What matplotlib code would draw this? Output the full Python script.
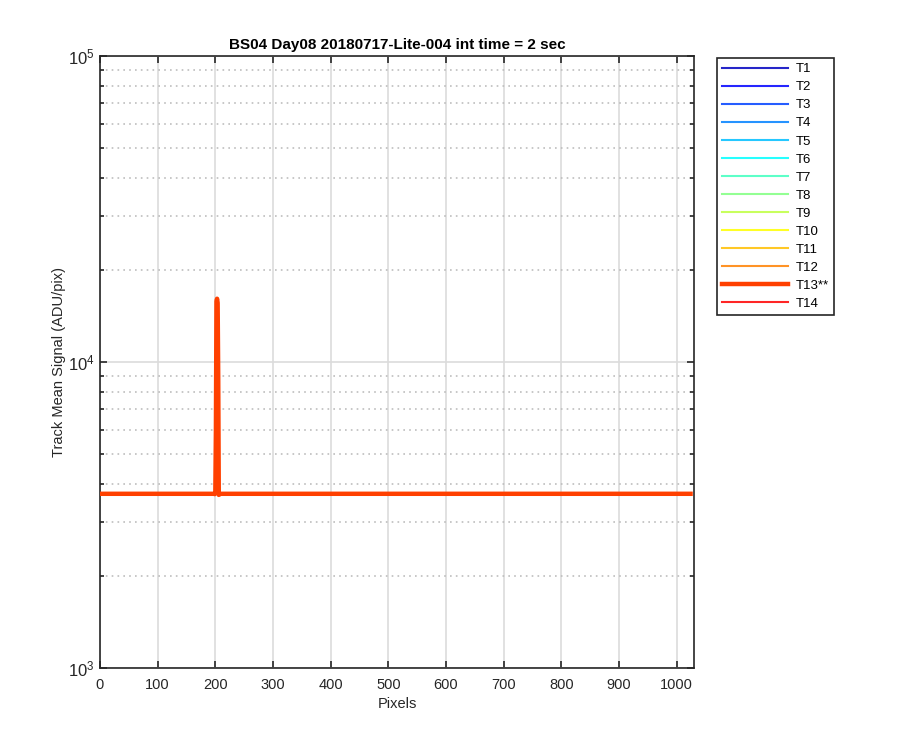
import numpy as np
import matplotlib
matplotlib.use("Agg")
from matplotlib import pyplot as plt
from matplotlib.ticker import LogLocator, NullFormatter, FixedLocator

plt.rcParams['font.family'] = ['Liberation Sans', 'DejaVu Sans']
plt.rcParams['mathtext.fontset'] = 'custom'
plt.rcParams['mathtext.rm'] = 'Liberation Sans'

# data
track_names = ['T1', 'T2', 'T3', 'T4', 'T5', 'T6', 'T7', 'T8', 'T9', 'T10',
               'T11', 'T12', 'T13**', 'T14']
track_base = [3700, 3700, 3700, 3700, 3700, 3700, 3700, 3700, 3700, 3700,
              3700, 3700, 3710, 3690]
n_pixels = 1024
spike_pixels = [199, 200, 201, 202, 203, 204, 205, 206, 207, 208]
spike_values = [3700, 3750, 6000, 15800, 16100, 15600, 9000, 3680, 3690, 3700]
highlight = 'T13**'
y_ticks = [1e3, 1e4, 1e5]
y_ticklabels = ['$\\mathregular{10^{3}}$', '$\\mathregular{10^{4}}$',
                '$\\mathregular{10^{5}}$']

# MATLAB jet(16), first 14 entries
colors = [(0, 0, 0.75), (0, 0, 1), (0, 0.25, 1), (0, 0.5, 1), (0, 0.75, 1),
          (0, 1, 1), (0.25, 1, 0.75), (0.5, 1, 0.5), (0.75, 1, 0.25),
          (1, 1, 0), (1, 0.75, 0), (1, 0.5, 0), (1, 0.25, 0), (1, 0, 0)]

pixels = np.arange(1, n_pixels + 1)

fig = plt.figure(figsize=(9, 7.5), dpi=100)
ax = fig.add_axes([0.1111, 0.1093, 0.66, 0.816])

for name, base, col in zip(track_names, track_base, colors):
    sig = np.full(n_pixels, float(base))
    for p, v in zip(spike_pixels, spike_values):
        sig[p - 1] = v
    if name == highlight:
        ax.plot(pixels, sig, color=col, lw=3.2, label=name, zorder=5)
    else:
        ax.plot(pixels, sig, color=col, lw=1.5, label=name, alpha=0.85, zorder=3)

ax.set_yscale('log')
ax.set_ylim(1e3, 1e5)
ax.set_xlim(0, 1030)
ax.xaxis.set_major_locator(FixedLocator(np.arange(0, 1001, 100)))
ax.set_yticks(y_ticks)
ax.set_yticklabels(y_ticklabels, fontsize=12)
ax.yaxis.set_minor_locator(LogLocator(base=10, subs=np.arange(2, 10), numticks=20))
ax.yaxis.set_minor_formatter(NullFormatter())

ax.grid(True, which='major', color='#dcdcdc', lw=1.2, ls='-')
ax.grid(True, which='minor', axis='y', color='#bdbdbd', lw=1.2, ls=(0, (1, 2.5)))
ax.set_axisbelow(True)

dark = '#262626'
for s in ax.spines.values():
    s.set_color(dark)
    s.set_linewidth(1.2)
ax.tick_params(which='both', direction='in', top=True, right=True, colors=dark,
               labelcolor=dark)
ax.tick_params(axis='x', labelsize=10.5, pad=7)
ax.tick_params(axis='y', pad=4)
ax.tick_params(which='major', length=5, width=1.2)
ax.tick_params(which='minor', length=3, width=1.2)

ax.set_xlabel('Pixels', fontsize=10.5, color=dark)
ax.set_ylabel('Track Mean Signal (ADU/pix)', fontsize=10.5, color=dark, labelpad=1)
ax.set_title('BS04 Day08 20180717-Lite-004 int time = 2 sec', fontsize=11,
             fontweight='bold', pad=5)

leg = ax.legend(loc='upper left', bbox_to_anchor=(1.038, 0.997), borderaxespad=0,
                fontsize=9.5, handlelength=5, labelspacing=0.44, handletextpad=0.6,
                fancybox=False, framealpha=1, edgecolor=dark)
leg.get_frame().set_linewidth(1.2)

fig.savefig('out.png', dpi=100)
